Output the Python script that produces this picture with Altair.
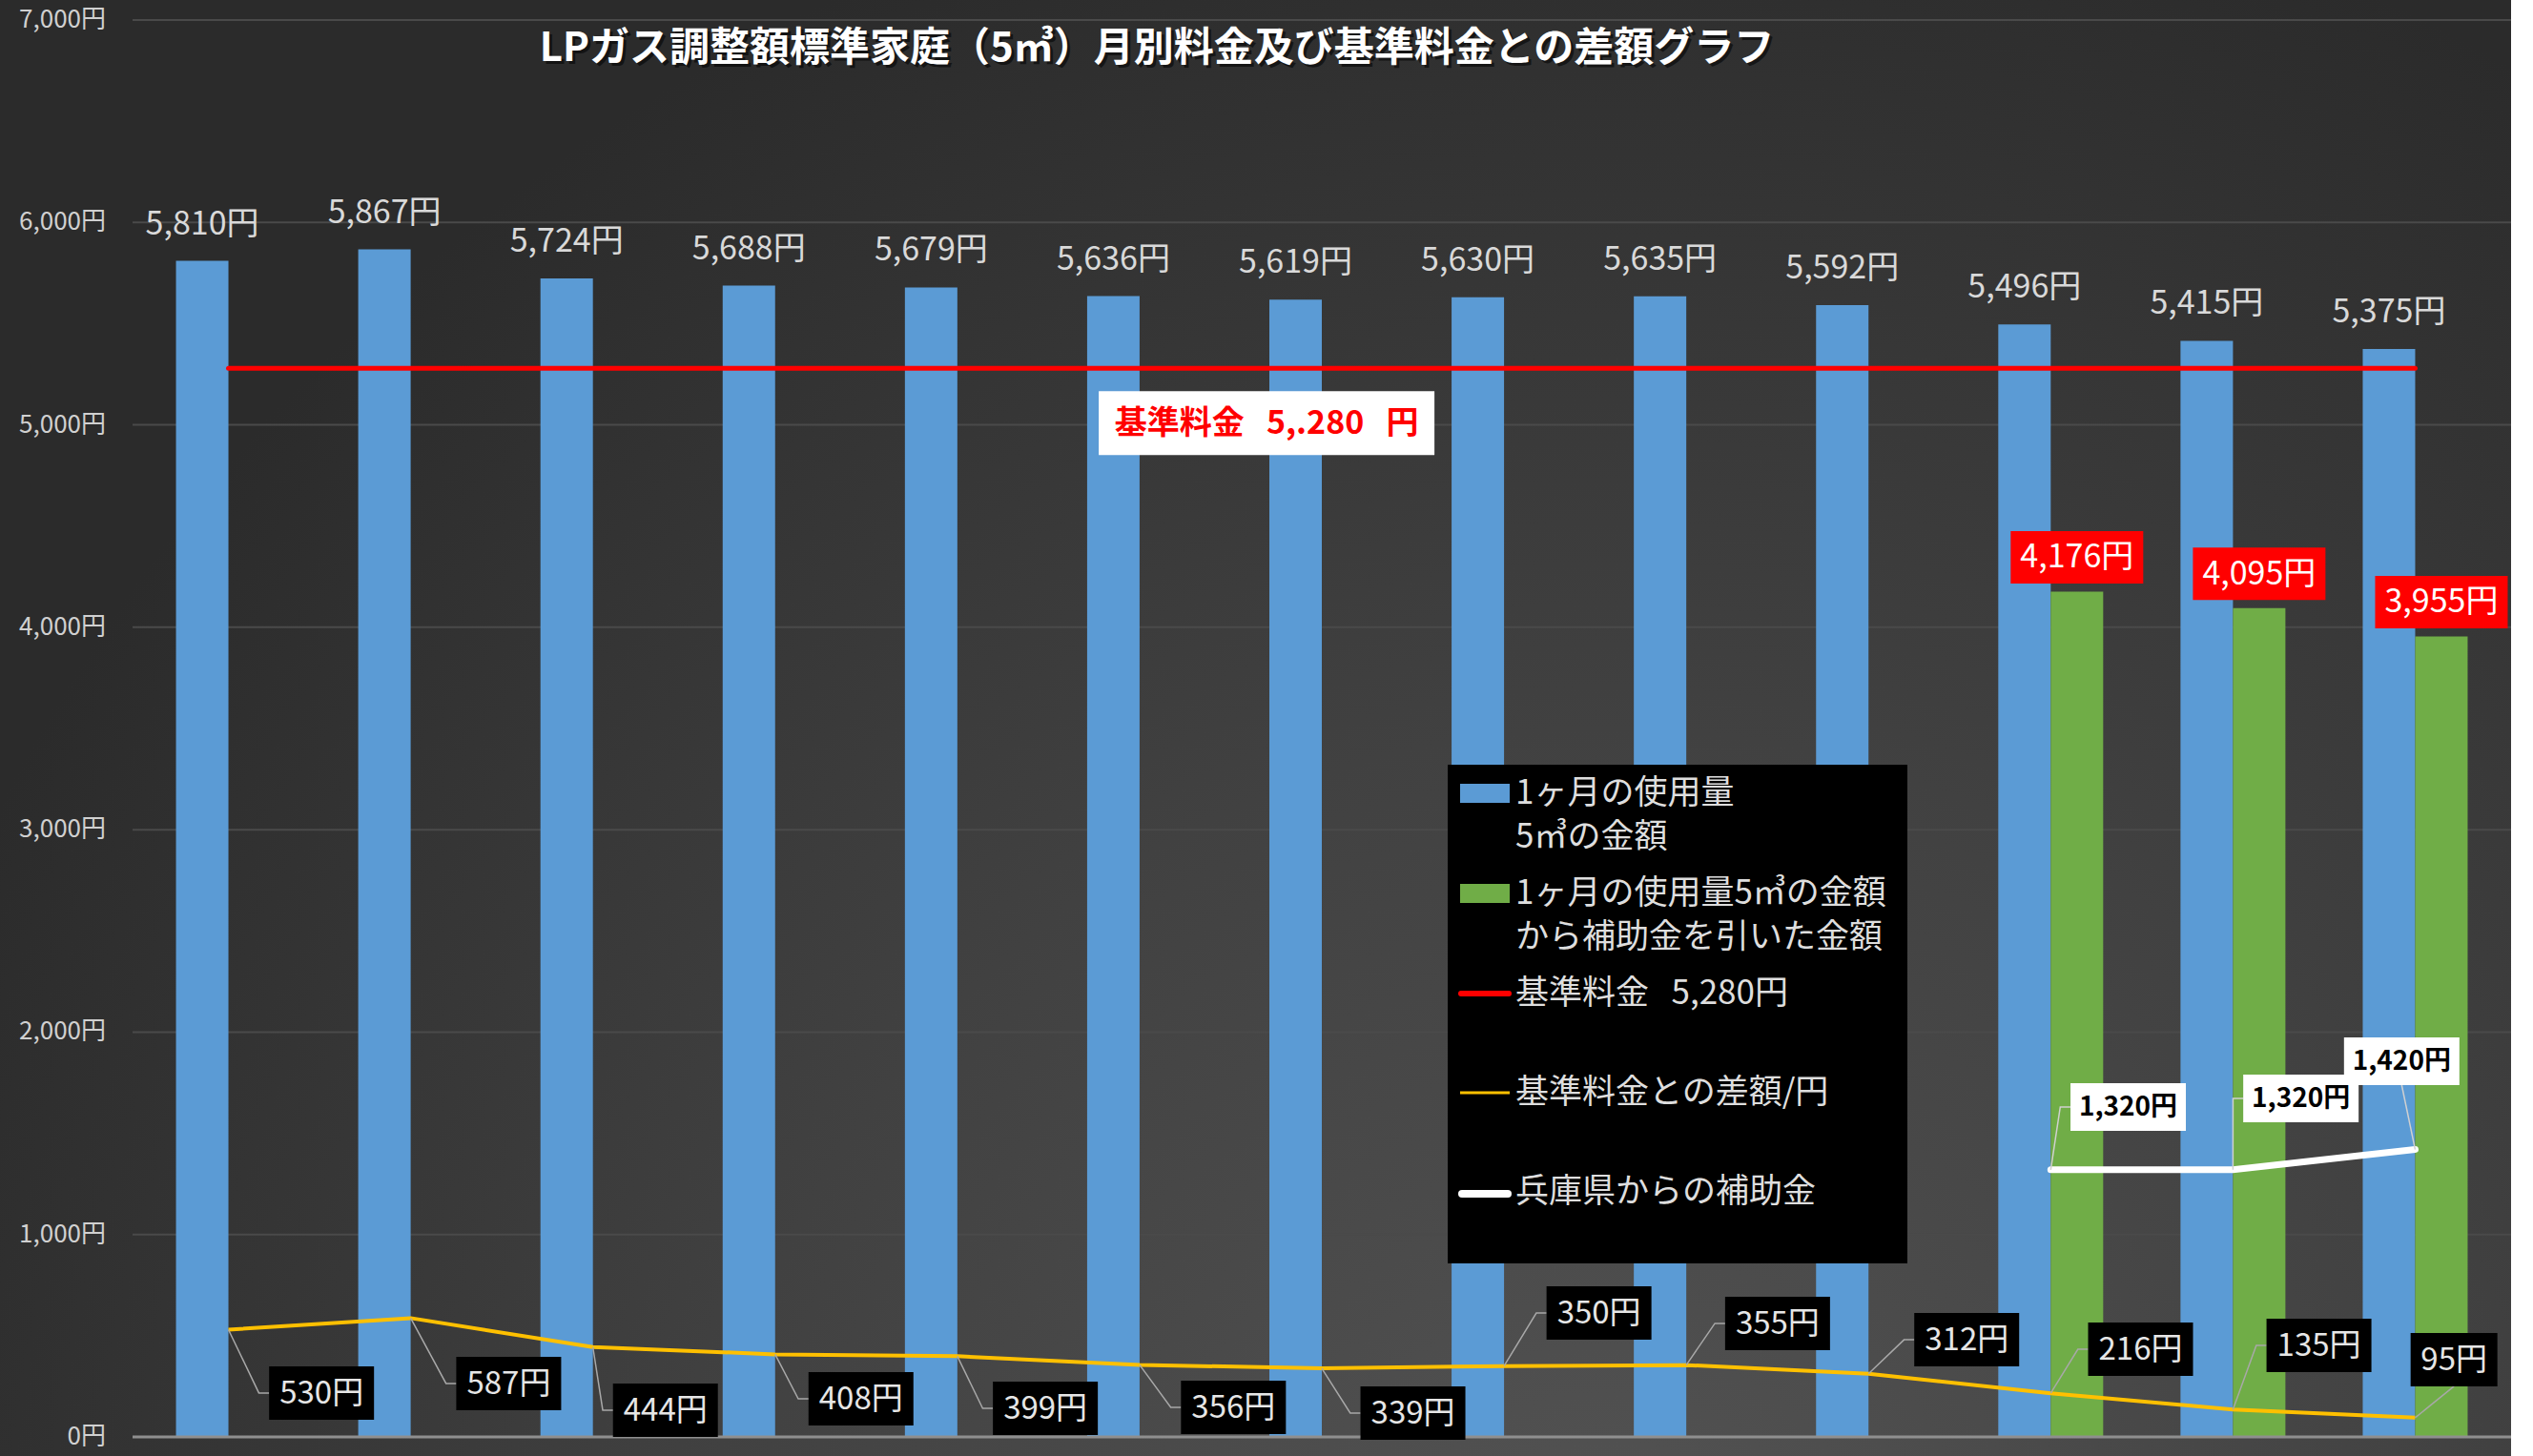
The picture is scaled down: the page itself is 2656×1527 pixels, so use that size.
import altair as alt
import pandas as pd

FONT = "Noto Sans CJK JP"
W, H = 2494, 1486
PAD = {"left": 139, "top": 21, "right": 0, "bottom": 20}
Y_MAX = 7000
PX_X = W / 13.0
PX_Y = H / Y_MAX

# ---------------- data ----------------
month_no = [1, 2, 3, 4, 5, 6, 7, 8, 9, 10, 11, 12, 13]
price = [5810, 5867, 5724, 5688, 5679, 5636, 5619, 5630, 5635, 5592, 5496, 5415, 5375]
after_subsidy = [None] * 10 + [4176, 4095, 3955]
base_price = 5280
diff = [530, 587, 444, 408, 399, 356, 339, 350, 355, 312, 216, 135, 95]
subsidy = [None] * 10 + [1320, 1320, 1420]
y_ticks = [0, 1000, 2000, 3000, 4000, 5000, 6000, 7000]

# ---------------- annotation anchors (data units: month index, yen) ----------------
diff_label_x = [0.511, 1.538, 2.398, 3.471, 4.483, 5.515, 6.500, 7.521, 8.501, 9.539, 10.493, 11.472, 12.213]
diff_label_y = [217, 264, 132, 188, 141, 146, 118, 612, 561, 480, 433, 452, 382]
diff_leader = ["left"] * 12 + ["bottom"]
sub_label_x = [10.425, 11.373, 11.926]
sub_label_y = [1630, 1672, 1856]
sub_leader = ["left", "left", "bottom"]
base_label_x, base_label_y = 5.697, 5009

title_text = "LPガス調整額標準家庭（5㎥）月別料金及び基準料金との差額グラフ"
base_label_text = "基準料金\u00a0\u00a0\u00a05,.280\u00a0\u00a0\u00a0円"
legend_texts = [
    "1ヶ月の使用量", "5㎥の金額",
    "1ヶ月の使用量5㎥の金額", "から補助金を引いた金額",
    "基準料金\u00a0\u00a0\u00a05,280円",
    "基準料金との差額/円",
    "兵庫県からの補助金",
]

# ---------------- frames ----------------
idx = [m - 1 for m in month_no]
main = pd.DataFrame({"i": idx, "price": price, "base": [base_price] * 13, "diff": diff})
main["price_lbl"] = [f"{v:,}円" for v in price]

green = pd.DataFrame({"i": idx, "after": after_subsidy}).dropna()
green["lbl"] = [f"{int(v):,}円" for v in green["after"]]

sub = pd.DataFrame({"i": idx, "sub": subsidy}).dropna()
sub["lbl"] = [f"{int(v):,}円" for v in sub["sub"]]
sub["lx"] = sub_label_x
sub["ly"] = sub_label_y

dlab = pd.DataFrame({"lx": diff_label_x, "ly": diff_label_y,
                     "lbl": [f"{v}円" for v in diff],
                     "bw": ["w3" if v >= 100 else "w2" for v in diff]})

ticks = pd.DataFrame({"v": y_ticks, "lbl": [f"{v:,}円" for v in y_ticks]})
grid = ticks[ticks["v"] > 0]
zero = ticks[ticks["v"] == 0]
dummy = pd.DataFrame({"d": [0]})


def box(w, h):
    a = w / h
    return f"M{-a:.4f},-1L{a:.4f},-1L{a:.4f},1L{-a:.4f},1Z", h * h


def leaders(pxs, pys, lxs, lys, sides, hws, hh, key):
    rows = []
    for k, (px, py, lx, ly, s, hw) in enumerate(zip(pxs, pys, lxs, lys, sides, hws)):
        rows.append(dict(k=f"{key}{k}", o=0, x=px, y=py))
        if s == "left":
            rows.append(dict(k=f"{key}{k}", o=1, x=lx - (hw + 11) / PX_X, y=ly))
            rows.append(dict(k=f"{key}{k}", o=2, x=lx - hw / PX_X, y=ly))
        else:
            rows.append(dict(k=f"{key}{k}", o=1, x=lx, y=ly - hh / PX_Y))
    return pd.DataFrame(rows)


diff_lead = leaders(idx, diff, diff_label_x, diff_label_y, diff_leader,
                    [55 if v >= 100 else 45.5 for v in diff], 28, "d")
sub_lead = leaders(list(sub["i"]), list(sub["sub"]), sub_label_x, sub_label_y,
                   sub_leader, [60.5] * 3, 25, "s")


def X(f):
    return alt.X(f"{f}:Q", scale=alt.Scale(domain=[-0.5, 12.5], nice=False, zero=False), axis=None)


def Y(f):
    return alt.Y(f"{f}:Q", scale=alt.Scale(domain=[0, Y_MAX], nice=False, zero=True), axis=None)


layers = []

# background gradient
bg = {"gradient": "radial", "x1": 0.64, "y1": 0.86, "x2": 0.64, "y2": 0.86,
      "r1": 0, "r2": 0.72,
      "stops": [{"offset": 0, "color": "#545454"},
                {"offset": 0.5, "color": "#414141"},
                {"offset": 1, "color": "#2b2b2b"}]}
layers.append(alt.Chart(dummy).mark_rect(fill=bg).encode(
    x=alt.value(-PAD["left"]), x2=alt.value(W), y=alt.value(-PAD["top"]), y2=alt.value(H + PAD["bottom"])))

# gridlines and y labels (drawn through the y scale)
layers.append(alt.Chart(grid).mark_rule(color="#4a4a4a", strokeWidth=2).encode(
    y=Y("v"), x=alt.value(0), x2=alt.value(W)))
layers.append(alt.Chart(ticks).mark_text(font=FONT, fontSize=26, color="#d0d0d0", align="right", baseline="middle").encode(
    y=Y("v"), x=alt.value(-28), text="lbl:N"))

# bars
layers.append(alt.Chart(main).mark_bar(size=55, xOffset=-27.5, color="#5B9BD5").encode(
    x=X("i"), y=Y("price")))
layers.append(alt.Chart(green).mark_bar(size=55, xOffset=27.5, color="#70AD47").encode(
    x=X("i"), y=Y("after")))

# zero line
layers.append(alt.Chart(zero).mark_rule(color="#8f8f8f", strokeWidth=3).encode(
    y=Y("v"), x=alt.value(0), x2=alt.value(W)))

# base line
layers.append(alt.Chart(main).mark_line(color="#FF0000", strokeWidth=5, strokeCap="round").encode(
    x=X("i"), y=Y("base")))

# diff line + labels
layers.append(alt.Chart(main).mark_line(color="#FFC000", strokeWidth=4, strokeJoin="round").encode(
    x=X("i"), y=Y("diff")))
layers.append(alt.Chart(diff_lead).mark_line(color="#a8a8a8", strokeWidth=1.5).encode(
    x=X("x"), y=Y("y"), detail="k:N", order="o:Q"))
p3, s3 = box(110, 56)
p2, _ = box(91, 56)
layers.append(alt.Chart(dlab).mark_point(filled=True, color="#000000", opacity=1, strokeWidth=0, size=s3).encode(
    x=X("lx"), y=Y("ly"),
    shape=alt.Shape("bw:N", scale=alt.Scale(domain=["w3", "w2"], range=[p3, p2]), legend=None)))
layers.append(alt.Chart(dlab).mark_text(font=FONT, fontSize=33, color="#e6e6e6", baseline="middle", dy=1).encode(
    x=X("lx"), y=Y("ly"), text="lbl:N"))

# subsidy line + labels
layers.append(alt.Chart(sub).mark_line(color="#FFFFFF", strokeWidth=7, strokeCap="round").encode(
    x=X("i"), y=Y("sub")))
layers.append(alt.Chart(sub_lead).mark_line(color="#d0d0d0", strokeWidth=1.5).encode(
    x=X("x"), y=Y("y"), detail="k:N", order="o:Q"))
pw, sw = box(121, 50)
layers.append(alt.Chart(sub).mark_point(filled=True, color="#FFFFFF", opacity=1, strokeWidth=0, size=sw, shape=pw).encode(
    x=X("lx"), y=Y("ly")))
layers.append(alt.Chart(sub).mark_text(font=FONT, fontSize=28, fontWeight="bold", color="#000000", baseline="middle", dy=1).encode(
    x=X("lx"), y=Y("ly"), text="lbl:N"))

# blue bar labels
layers.append(alt.Chart(main).mark_text(font=FONT, fontSize=34, color="#d9d9d9", baseline="middle", dx=-27.5, dy=-38).encode(
    x=X("i"), y=Y("price"), text="price_lbl:N"))

# green bar labels (red boxes)
pr, sr = box(139, 55)
layers.append(alt.Chart(green).mark_point(filled=True, color="#FF0000", opacity=1, strokeWidth=0, size=sr, shape=pr,
                                          xOffset=27.5, yOffset=-36).encode(x=X("i"), y=Y("after")))
layers.append(alt.Chart(green).mark_text(font=FONT, fontSize=34, color="#FFFFFF", baseline="middle", dx=27.5, dy=-35).encode(
    x=X("i"), y=Y("after"), text="lbl:N"))

# base price label
base_df = pd.DataFrame({"lx": [base_label_x], "ly": [base_label_y], "t": [base_label_text]})
pb, sb = box(352, 67)
layers.append(alt.Chart(base_df).mark_point(filled=True, color="#FFFFFF", opacity=1, strokeWidth=0, size=sb, shape=pb).encode(
    x=X("lx"), y=Y("ly")))
layers.append(alt.Chart(base_df).mark_text(font=FONT, fontSize=34, fontWeight="bold", color="#FF0000", baseline="middle", dy=1).encode(
    x=X("lx"), y=Y("ly"), text="t:N"))

# legend (manual)
layers.append(alt.Chart(dummy).mark_rect(color="#000000").encode(
    x=alt.value(1379), x2=alt.value(1861), y=alt.value(781), y2=alt.value(1304)))
layers.append(alt.Chart(dummy).mark_rect(color="#5B9BD5").encode(
    x=alt.value(1392), x2=alt.value(1444), y=alt.value(801), y2=alt.value(821)))
layers.append(alt.Chart(dummy).mark_rect(color="#70AD47").encode(
    x=alt.value(1392), x2=alt.value(1444), y=alt.value(906), y2=alt.value(926)))
layers.append(alt.Chart(dummy).mark_rule(color="#FF0000", strokeWidth=6, strokeCap="round").encode(
    x=alt.value(1393), x2=alt.value(1443), y=alt.value(1021)))
layers.append(alt.Chart(dummy).mark_rule(color="#FFC000", strokeWidth=3).encode(
    x=alt.value(1392), x2=alt.value(1444), y=alt.value(1125)))
layers.append(alt.Chart(dummy).mark_rule(color="#FFFFFF", strokeWidth=8, strokeCap="round").encode(
    x=alt.value(1394), x2=alt.value(1442), y=alt.value(1231)))
for t, ty in zip(legend_texts, [811, 857, 916, 962, 1021, 1125, 1229]):
    layers.append(alt.Chart(dummy).mark_text(font=FONT, fontSize=35, color="#dedede", align="left", baseline="middle").encode(
        x=alt.value(1450), y=alt.value(ty), text=alt.value(t)))

# title with shadow
layers.append(alt.Chart(dummy).mark_text(font=FONT, fontSize=42, fontWeight="bold", color="#000000", opacity=0.55,
                                         align="center", baseline="middle").encode(
    x=alt.value(1077), y=alt.value(33), text=alt.value(title_text)))
layers.append(alt.Chart(dummy).mark_text(font=FONT, fontSize=42, fontWeight="bold", color="#FFFFFF",
                                         align="center", baseline="middle").encode(
    x=alt.value(1074), y=alt.value(30), text=alt.value(title_text)))

chart = alt.layer(*layers).properties(
    width=W, height=H, background="#2e2e2e", padding=PAD,
    autosize=alt.AutoSizeParams(type="none"),
).configure_view(strokeWidth=0)

chart.save("out.html", embed_options={"renderer": "svg", "actions": False})
